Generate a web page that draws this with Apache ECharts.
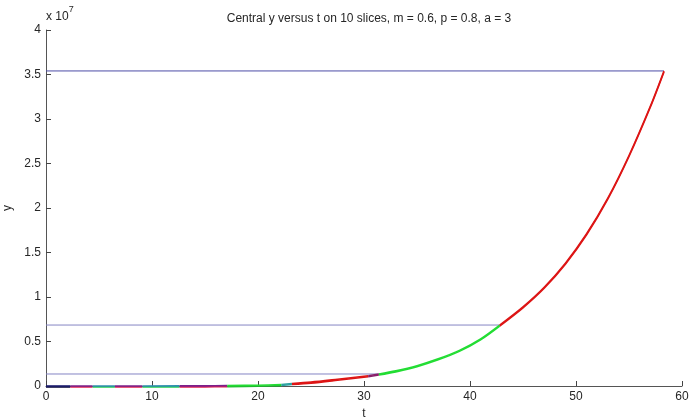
<!DOCTYPE html>
<html>
<head>
<meta charset="utf-8">
<script src="https://cdn.jsdelivr.net/npm/echarts@6/dist/echarts.min.js"></script>
<style>
  html, body { margin: 0; padding: 0; background: #fff; }
  #chart { width: 691px; height: 418px; }
</style>
</head>
<body>
<div id="chart"></div>
<script>
// curve (t, y)
const tVals = [0, 2.3, 4.4, 6.5, 9.1, 12.6, 15, 17.1, 20, 22.2, 23.2, 25, 27.5, 30.4, 31.4, 33, 35, 37, 39, 41, 42.8, 45, 47, 49, 51, 53, 55, 57, 58.3]
const yVals = [0, 0, 200, 800, 2500, 9000, 18000, 40000, 90000, 160000, 280000, 440000, 760000, 1150000, 1350000, 1700000, 2280000, 3050000, 4000000, 5300000, 6850000, 8900000, 11100000, 13800000, 17100000, 21100000, 25900000, 31400000, 35400000]

// slices of the curve
const sliceStart = [0, 2.3, 4.4, 6.5, 9.1, 12.6, 17.1, 22.2, 23.2, 30.4, 31.4, 42.8]
const sliceEnd = [2.3, 4.4, 6.5, 9.1, 12.6, 17.1, 22.2, 23.2, 30.4, 31.4, 42.8, 58.3]

// horizontal marker lines
const levelY = [35400000, 6850000, 1350000]
const levelEnd = [58.3, 42.8, 31.4]

const yTickLabels = ['0', '0.5', '1', '1.5', '2', '2.5', '3', '3.5', '4']

const topColors = ['#1c1c70', '#7b1f8c', '#2f8fb0', '#7b1f8c', '#2f8fb0', '#7b1f8c', '#22dd33', '#2aa0a0', '#dd1515', '#8a1f6a', '#22dd33', '#dd1515']
const lowColors = ['#101040', '#e02050', '#22d050', '#e02050', '#22d050', '#e02050', '#1fb52f', '#2aa0a0', '#dd1515', '#8a1f6a', '#22dd33', '#dd1515']
const levelColors = ['#4c4ca6', '#8585c4', '#8585c4']

const myChart = echarts.init(document.querySelector('#chart'))

const txt = '#262626'
const font = 'Liberation Sans, Arial, sans-serif'

function axisX(idx, show) {
  return {
    type: 'value', gridIndex: idx, min: 0, max: 60, interval: 10, show: show,
    axisLine: { lineStyle: { color: '#555', width: 1 } },
    axisTick: { inside: true, length: 5, lineStyle: { color: '#444' } },
    axisLabel: { color: txt, fontSize: 12, fontFamily: font, margin: 5 },
    splitLine: { show: false },
    name: 't', nameLocation: 'middle', nameGap: 21,
    nameTextStyle: { color: txt, fontSize: 12, fontFamily: font }
  }
}
function axisY(idx, show) {
  return {
    type: 'value', gridIndex: idx, min: 0, max: 40000000, interval: 5000000, show: show,
    axisLine: { show: true, lineStyle: { color: '#555', width: 1 } },
    axisTick: { show: true, inside: true, length: 5, lineStyle: { color: '#444' } },
    axisLabel: {
      color: txt, fontSize: 12, fontFamily: font, margin: 5,
      formatter: v => yTickLabels[Math.round(v / 5000000)]
    },
    splitLine: { show: false },
    name: 'y', nameLocation: 'middle', nameGap: 32, nameMoveOverlap: false,
    nameTextStyle: { color: txt, fontSize: 12, fontFamily: font }
  }
}

const series = []
levelY.forEach((y, i) => {
  series.push({
    type: 'line', xAxisIndex: 0, yAxisIndex: 0, symbol: 'none', clip: false,
    data: [[0, y], [levelEnd[i], y]],
    lineStyle: { color: levelColors[i], width: 1 }, z: 1
  })
})
sliceStart.forEach((a, i) => {
  const pts = []
  tVals.forEach((t, k) => {
    if (t >= a && t <= sliceEnd[i]) pts.push([t, yVals[k]])
  })
  // lower half of the line, one pixel down
  series.push({
    type: 'line', xAxisIndex: 1, yAxisIndex: 1, symbol: 'none', clip: false, smooth: 0.3,
    data: pts, lineStyle: { color: lowColors[i], width: 1.6 }, z: 3
  })
  series.push({
    type: 'line', xAxisIndex: 0, yAxisIndex: 0, symbol: 'none', clip: false, smooth: 0.3,
    data: pts, lineStyle: { color: topColors[i], width: 1.6 }, z: 4
  })
})

const option = {
  animation: false,
  backgroundColor: '#fff',
  title: {
    text: 'Central y versus t on 10 slices, m = 0.6, p = 0.8, a = 3',
    left: 364, top: 8, textAlign: 'center',
    textStyle: { color: txt, fontSize: 12, fontWeight: 'normal', fontFamily: font }
  },
  grid: [
    { left: 46, right: 9, top: 30, bottom: 32, outerBoundsMode: 'none', containLabel: false },
    { left: 46, right: 9, top: 31, bottom: 31, outerBoundsMode: 'none', containLabel: false }
  ],
  xAxis: [axisX(0, true), axisX(1, false)],
  yAxis: [axisY(0, true), axisY(1, false)],
  graphic: [{
    type: 'text', left: 46, top: 5,
    style: {
      text: '{a|x 10}{b|7}',
      rich: {
        a: { fontSize: 12, fontFamily: font, fill: txt, padding: [6, 0, 0, 0] },
        b: { fontSize: 9, fontFamily: font, fill: txt, verticalAlign: 'top' }
      }
    }
  }],
  series: series
}

myChart.setOption(option)
</script>
</body>
</html>
